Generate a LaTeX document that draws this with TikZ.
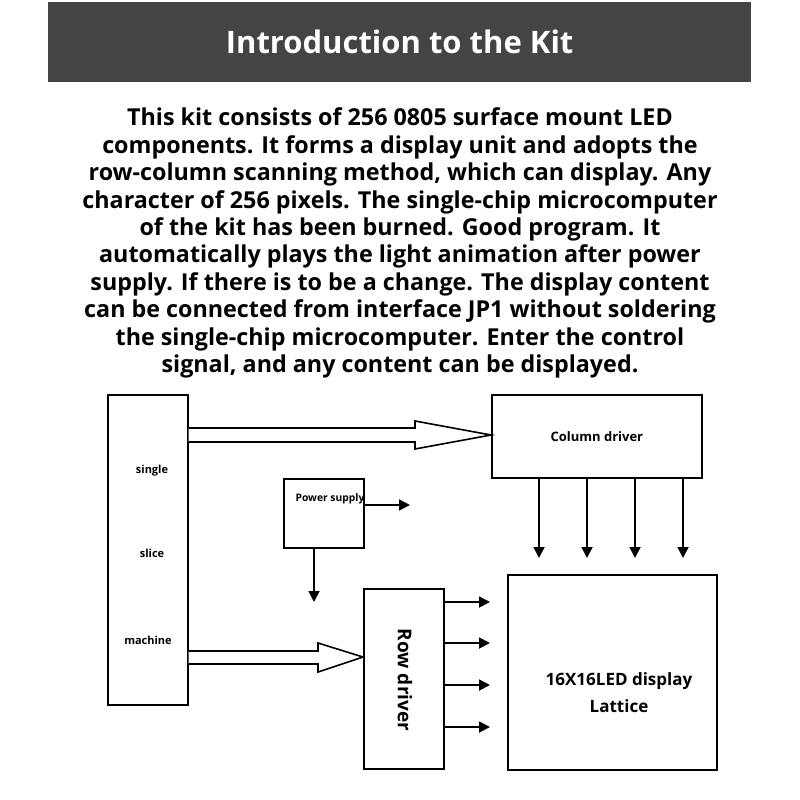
\documentclass[tikz,border=0pt]{standalone}
\usepackage{fontspec}
\setmainfont{Open Sans}
\usetikzlibrary{arrows.meta,positioning,calc}
\definecolor{kitgray}{HTML}{444444}
\tikzstyle{block} = [rectangle, draw=black, line width=1.7pt, inner sep=0pt, anchor=north west]
\tikzstyle{arrow} = [-{Triangle[length=11pt,width=11pt]}, line width=1.8pt]
\tikzstyle{hollow} = [draw=black, line width=1.6pt, fill=white, line join=miter]
\tikzstyle{lbl} = [font=\fontsize{11}{13}\selectfont\bfseries, inner sep=0pt]
\begin{document}
\begin{tikzpicture}[x=1pt, y=-1pt]
\useasboundingbox (0,0) rectangle (800,800);
% title and text
\node[fill=kitgray, minimum width=703pt, minimum height=80pt, anchor=north west,
    text=white, font=\fontsize{31}{36}\selectfont\bfseries] (title) at (48,2) {Introduction to the Kit};
\node[align=center, font=\fontsize{23.3}{27.4}\selectfont\bfseries, inner sep=0pt] (intro) at (400,243)
    {This kit consists of 256 0805 surface mount LED\\
     components. It forms a display unit and adopts the\\
     row-column scanning method, which can display. Any\\
     character of 256 pixels. The single-chip microcomputer\\
     of the kit has been burned. Good program. It\\
     automatically plays the light animation after power\\
     supply. If there is to be a change. The display content\\
     can be connected from interface JP1 without soldering\\
     the single-chip microcomputer. Enter the control\\
     signal, and any content can be displayed.};
% blocks
\node[block, minimum width=80pt, minimum height=310pt] (mcu) at (107,394) {};
\node[lbl] (mcu1) at (152,471) {single};
\node[lbl] (mcu2) at (152,553) {slice};
\node[lbl] (mcu3) at (148,640) {machine};
\node[block, minimum width=210pt, minimum height=83pt,
    font=\fontsize{13}{15}\selectfont\bfseries] (coldrv) at (491,394) {Column driver};
\node[block, minimum width=80pt, minimum height=69pt] (power) at (283,478) {};
\node[lbl, font=\fontsize{10.3}{12}\selectfont\bfseries] (powerlbl) at (330,499) {Power supply};
\node[block, minimum width=80pt, minimum height=180pt] (rowdrv) at (363,588) {};
\node[inner sep=0pt, rotate=-90, font=\fontsize{19}{22}\selectfont\bfseries] (rowlbl) at (405,680) {Row driver};
\node[block, minimum width=209pt, minimum height=195pt] (led) at (507,574) {};
\node[align=center, inner sep=0pt, font=\fontsize{17}{27}\selectfont\bfseries] (ledlbl) at (619,693)
    {16X16LED display\\Lattice};
% arrow ends
\coordinate (c1) at (539,558);
\coordinate (c2) at (587,558);
\coordinate (c3) at (635,558);
\coordinate (c4) at (683,558);
\coordinate (r1) at (490,602);
\coordinate (r2) at (490,643);
\coordinate (r3) at (490,685);
\coordinate (r4) at (490,727);
\coordinate (p1) at (410,505);
\coordinate (p2) at (314,602);
% hollow arrows
\draw[hollow] (mcu.east |- 0,428) -- (415,428) -- (415,421) -- (coldrv.west |- 0,435)
    -- (415,449) -- (415,442) -- (mcu.east |- 0,442);
\draw[hollow] (mcu.east |- 0,651) -- (318,651) -- (318,643) -- (rowdrv.west |- 0,657)
    -- (318,672) -- (318,664) -- (mcu.east |- 0,664);
% signal arrows
\draw[arrow] (coldrv.south -| c1) -- (c1);
\draw[arrow] (coldrv.south -| c2) -- (c2);
\draw[arrow] (coldrv.south -| c3) -- (c3);
\draw[arrow] (coldrv.south -| c4) -- (c4);
\draw[arrow] (rowdrv.east |- r1) -- (r1);
\draw[arrow] (rowdrv.east |- r2) -- (r2);
\draw[arrow] (rowdrv.east |- r3) -- (r3);
\draw[arrow] (rowdrv.east |- r4) -- (r4);
\draw[arrow] (power.east |- p1) -- (p1);
\draw[arrow] (power.south -| p2) -- (p2);
\end{tikzpicture}
\end{document}
